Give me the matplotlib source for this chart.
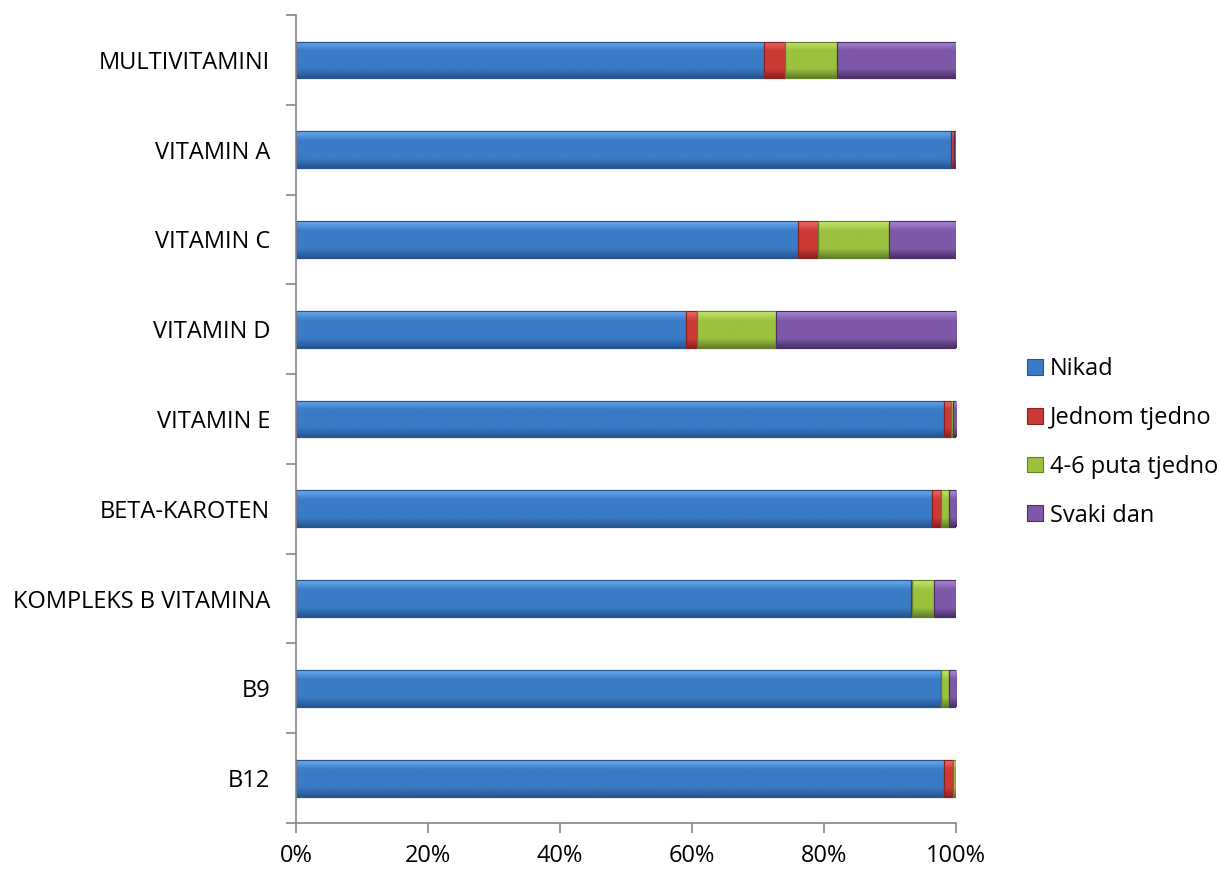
import matplotlib.pyplot as plt
import numpy as np
from matplotlib.colors import LinearSegmentedColormap
from matplotlib.ticker import FixedLocator, PercentFormatter

kategorije = ["MULTIVITAMINI", "VITAMIN A", "VITAMIN C", "VITAMIN D", "VITAMIN E",
              "BETA-KAROTEN", "KOMPLEKS B VITAMINA", "B9", "B12"]
nikad = [70.9, 99.2, 76.0, 59.1, 98.2, 96.4, 93.2, 97.8, 98.2]
jednom_tjedno = [3.2, 0.5, 3.1, 1.7, 1.0, 1.4, 0.2, 0.0, 1.4]
puta_4_6 = [7.9, 0.0, 10.8, 11.9, 0.3, 1.1, 3.3, 1.1, 0.4]
svaki_dan = [18.0, 0.3, 10.1, 27.3, 0.5, 1.1, 3.3, 1.1, 0.0]

# naziv, podaci, svijetla, osnovna, tamna boja
serije = [("Nikad", nikad, "#6AAAF0", "#3A7BC6", "#26558F"),
          ("Jednom tjedno", jednom_tjedno, "#F06A66", "#CC3A36", "#8A2220"),
          ("4-6 puta tjedno", puta_4_6, "#C8E66E", "#9BC23F", "#62802A"),
          ("Svaki dan", svaki_dan, "#A888D6", "#7D59A8", "#4A2F68")]

plt.rcParams['font.family'] = ['Open Sans', 'DejaVu Sans']
vel = 17

fig = plt.figure(figsize=(12.2, 8.69), dpi=100)
ax = fig.add_axes([0.2426, 0.0529, 0.541, 0.9298])

y = np.arange(len(kategorije))
lijevo = np.zeros(len(kategorije))
gradijent = np.linspace(0, 1, 64).reshape(-1, 1)
for naziv, vrijednosti, svijetla, boja, tamna in serije:
    v = np.array(vrijednosti) / 100
    bars = ax.barh(y, v, left=lijevo, height=0.41, color=boja, edgecolor=tamna,
                   linewidth=0.8, label=naziv)
    cmap = LinearSegmentedColormap.from_list(naziv, [svijetla, boja, boja, boja, tamna])
    for b in bars:
        if b.get_width() <= 0:
            continue
        x0, y0 = b.get_x(), b.get_y()
        im = ax.imshow(gradijent, cmap=cmap, aspect='auto', interpolation='bilinear',
                       extent=(x0, x0 + b.get_width(), y0, y0 + b.get_height()),
                       origin='lower', zorder=b.get_zorder())
        im.set_clip_path(b)
    # rubovi segmenata preko gradijenta
    ax.barh(y, v, left=lijevo, height=0.41, facecolor='none', edgecolor=tamna,
            linewidth=0.8, zorder=2)
    lijevo += v

ax.set_xlim(0, 1)
ax.set_ylim(len(kategorije) - 0.5, -0.5)
ax.set_yticks(y)
ax.set_yticklabels(kategorije)
ax.yaxis.set_minor_locator(FixedLocator(np.arange(-0.5, len(kategorije), 1)))
ax.tick_params(axis='y', which='major', length=0, pad=18.5, labelsize=vel)
ax.tick_params(axis='y', which='minor', length=7, color='#868686', width=1.2)
ax.set_xticks(np.linspace(0, 1, 6))
ax.xaxis.set_major_formatter(PercentFormatter(1.0, decimals=0))
ax.tick_params(axis='x', length=7, color='#868686', width=1.2, labelsize=vel, pad=8)

for s in ['top', 'right']:
    ax.spines[s].set_visible(False)
for s in ['left', 'bottom']:
    ax.spines[s].set_color('#868686')
    ax.spines[s].set_linewidth(1.2)
    ax.spines[s].set_zorder(3)

ax.legend(loc='center left', bbox_to_anchor=(1.094, 0.471), frameon=False,
          fontsize=vel, handlelength=0.65, handleheight=0.65, handletextpad=0.3,
          labelspacing=1.05, borderaxespad=0)

plt.savefig("out.png", dpi=100)
